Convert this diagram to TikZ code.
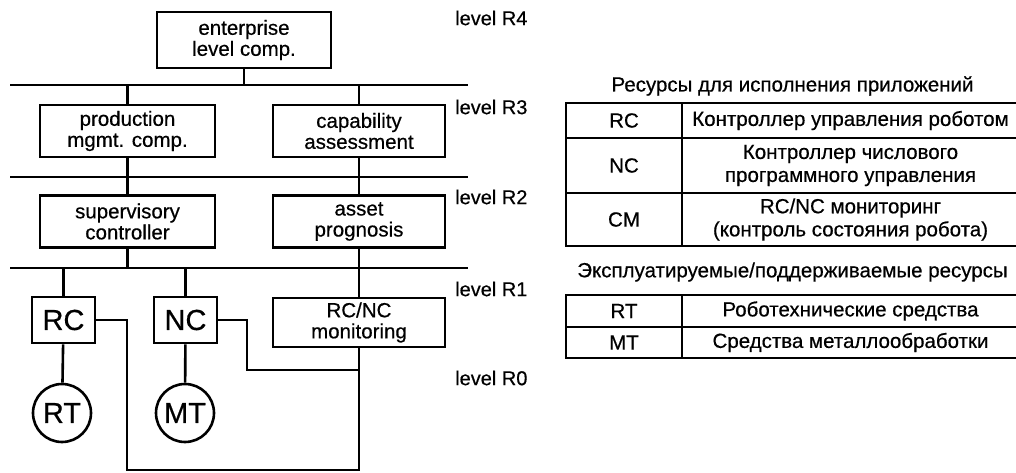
\documentclass[tikz,border=0pt]{standalone}
\usepackage{fontspec}
\setmainfont[FakeBold=0.5]{Liberation Sans}
\usetikzlibrary{positioning}

\begin{document}
\begin{tikzpicture}[
            x=1pt, y=-1pt,
            every node/.style={align=center, inner sep=0pt, font=\fontsize{20.5}{21}\selectfont},
            box/.style={draw, line width=2.6pt, minimum width=#1, minimum height=52pt},
            res/.style={draw, line width=2.6pt, minimum width=63pt, minimum height=46pt, font=\fontsize{29}{30}\selectfont},
            tool/.style={draw, circle, line width=2.6pt, minimum size=58pt, font=\fontsize{29}{30}\selectfont},
            link/.style={line width=2.6pt},
            bus/.style={line width=1.9pt},
            lvl/.style={anchor=west, font=\fontsize{20}{21}\selectfont},
            cell/.style={draw, line width=1.9pt, minimum width=#1, font=\fontsize{20.5}{23}\selectfont}
        ]
            \useasboundingbox (0,0) rectangle (1016,473);

            \node[box=174pt, minimum height=56pt] (ent) at (244,40) {enterprise\\level comp.};
            \node[box=175pt] (prod) at (127.5,131) {production\\mgmt. comp.};
            \node[box=172pt] (cap) at (359,131) {capability\\assessment};
            \node[box=175pt] (sup) at (127.5,221.5) {supervisory\\controller};
            \node[box=172pt] (asset) at (359,221.5) {asset\\prognosis};
            \node[res] (rc) at (63.5,320) {RC};
            \node[res] (nc) at (185.5,320) {NC};
            \node[box=172pt, minimum height=49pt] (mon) at (359,322.5) {RC/NC\\monitoring};
            \node[tool] (rt) at (62,413) {RT};
            \node[tool] (mt) at (185,413) {MT};

            \coordinate (b4l) at (10,85);
            \coordinate (b4r) at (468,85);
            \coordinate (b3l) at (10,177);
            \coordinate (b3r) at (468,177);
            \coordinate (b2l) at (10,268);
            \coordinate (b2r) at (468,268);
            \coordinate (rcturn) at (127,470);
            \coordinate (ncturn) at (247,370);

            \draw[bus] (b4l) -- (b4r);
            \draw[bus] (b3l) -- (b3r);
            \draw[bus] (b2l) -- (b2r);

            \draw[link] (ent.south) -- (ent.south |- b4l);
            \draw[link] (prod.north) -- (prod.north |- b4l);
            \draw[link] (cap.north) -- (cap.north |- b4l);
            \draw[link] (prod.south) -- (prod.south |- b3l);
            \draw[link] (cap.south) -- (cap.south |- b3l);
            \draw[link] (sup.north) -- (sup.north |- b3l);
            \draw[link] (asset.north) -- (asset.north |- b3l);
            \draw[link] (sup.south) -- (sup.south |- b2l);
            \draw[link] (asset.south) -- (mon.north);
            \draw[link] (rc.north) -- (rc.north |- b2l);
            \draw[link] (nc.north) -- (nc.north |- b2l);
            \draw[link] (rc) -- (rt);
            \draw[link] (nc) -- (mt);
            \draw[link] (rc.east) -| (rcturn) -| (mon.south);
            \draw[link] (nc.east) -| (ncturn) -| (mon.south);

            \node[lvl] (r4) at (455,18) {level R4};
            \node[lvl] (r3) at (455,107) {level R3};
            \node[lvl] (r2) at (455,197) {level R2};
            \node[lvl] (r1) at (455,289) {level R1};
            \node[lvl] (r0) at (455,378) {level R0};

            \node (apps) at (792.5,86) {Ресурсы для исполнения приложений};
            \node[cell=116pt, minimum height=35pt] (rca) at (624,120.5) {RC};
            \node[cell=337pt, minimum height=35pt] (rcb) at (850.5,120.5) {Контроллер управления роботом};
            \node[cell=116pt, minimum height=55pt] (nca) at (624,165.5) {NC};
            \node[cell=337pt, minimum height=55pt] (ncb) at (850.5,165.5) {Контроллер числового\\программного управления};
            \node[cell=116pt, minimum height=53pt] (cma) at (624,219.5) {CM};
            \node[cell=337pt, minimum height=53pt] (cmb) at (850.5,219.5) {RC/NC мониторинг\\(контроль состояния робота)};

            \node (used) at (792.5,272) {Эксплуатируемые/поддерживаемые ресурсы};
            \node[cell=116pt, minimum height=32pt] (rta) at (624,311) {RT};
            \node[cell=337pt, minimum height=32pt] (rtb) at (850.5,311) {Роботехнические средства};
            \node[cell=116pt, minimum height=31pt] (mta) at (624,342.5) {MT};
            \node[cell=337pt, minimum height=31pt] (mtb) at (850.5,342.5) {Средства металлообработки};
        \end{tikzpicture}
\end{document}
